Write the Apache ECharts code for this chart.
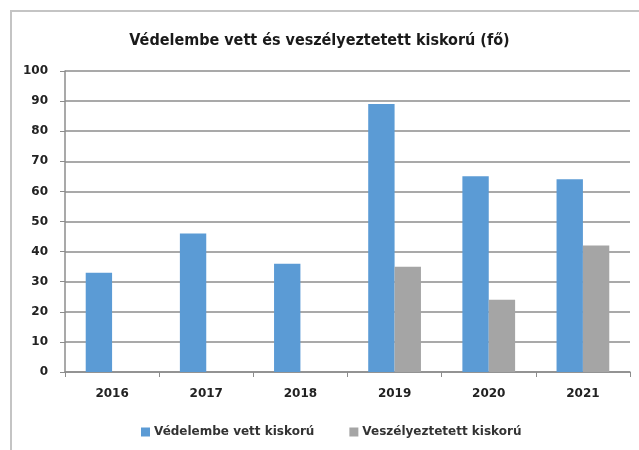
<!DOCTYPE html>
<html>
<head>
<meta charset="utf-8">
<script src="https://cdn.jsdelivr.net/npm/echarts@6/dist/echarts.min.js"></script>
<style>
html,body{margin:0;padding:0;background:#fff;}
#frame{position:absolute;left:10px;top:10px;width:629px;height:440px;border-left:2px solid #c4c4c4;border-top:2px solid #c4c4c4;box-sizing:border-box;}
#chart{position:absolute;left:0;top:0;width:639px;height:450px;}
</style>
</head>
<body>
<div id="frame"></div>
<div id="chart"></div>
<script>
const titleText = 'Védelembe vett és veszélyeztetett kiskorú (fő)';
const categories = ['2016', '2017', '2018', '2019', '2020', '2021'];
const seriesNames = ['Védelembe vett kiskorú', 'Veszélyeztetett kiskorú'];
const protectedMinors = [33, 46, 36, 89, 65, 64];
const endangeredMinors = [null, null, null, 35, 24, 42];
const yTicks = { min: 0, max: 100, interval: 10 };

const chart = echarts.init(document.getElementById('chart'), null, { renderer: 'canvas' });
const font = 'DejaVu Sans, Liberation Sans, sans-serif';
const titleFont = 'DejaVu Sans Condensed, DejaVu Sans, sans-serif';
chart.setOption({
  animation: false,
  backgroundColor: 'transparent',
  title: {
    text: titleText,
    left: 'center',
    top: 28,
    textStyle: { fontFamily: titleFont, fontSize: 16, fontWeight: 'bold', color: '#1a1a1a' }
  },
  legend: {
    data: seriesNames,
    top: 421,
    left: 136,
    itemWidth: 9,
    itemHeight: 9,
    itemGap: 35,
    icon: 'rect',
    textStyle: { fontFamily: font, fontSize: 12, fontWeight: 'bold', color: '#333', padding: [0, 0, 0, -1] }
  },
  grid: { left: 65, right: 9, top: 71, bottom: 78, containLabel: false },
  xAxis: {
    type: 'category',
    data: categories,
    axisLine: { lineStyle: { color: '#8c8c8c', width: 1.5 } },
    axisTick: { show: true, alignWithLabel: false, length: 5, lineStyle: { color: '#8c8c8c' } },
    axisLabel: { margin: 16, fontFamily: font, fontSize: 12, fontWeight: 'bold', color: '#222' }
  },
  yAxis: {
    type: 'value',
    min: yTicks.min,
    max: yTicks.max,
    interval: yTicks.interval,
    axisLine: { show: true, lineStyle: { color: '#8c8c8c', width: 1.5 } },
    axisTick: { show: true, length: 5, lineStyle: { color: '#8c8c8c' } },
    axisLabel: { margin: 17, fontFamily: font, fontSize: 12, fontWeight: 'bold', color: '#222' },
    splitLine: { lineStyle: { color: '#8c8c8c', width: 1.5 } }
  },
  series: [
    {
      name: seriesNames[0],
      type: 'bar',
      data: protectedMinors,
      barWidth: '28%',
      barGap: '0%',
      itemStyle: { color: '#5b9bd5' }
    },
    {
      name: seriesNames[1],
      type: 'bar',
      data: endangeredMinors,
      barWidth: '28%',
      barGap: '0%',
      itemStyle: { color: '#a5a5a5' }
    }
  ]
});
</script>
</body>
</html>
